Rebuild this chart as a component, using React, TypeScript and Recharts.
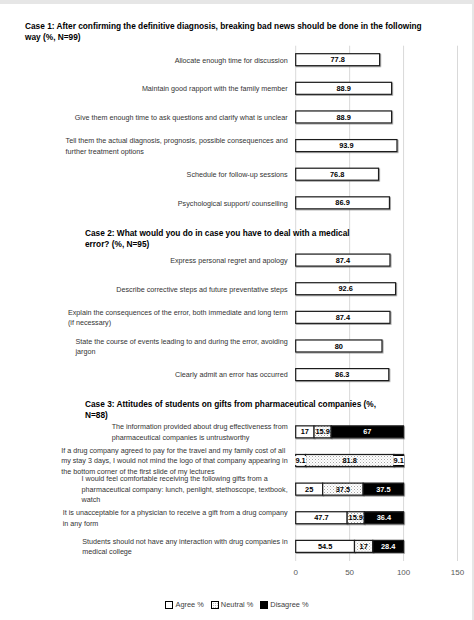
import { BarChart, Bar, XAxis, YAxis, CartesianGrid, LabelList } from 'recharts'

const FONT = "'Liberation Sans', Arial, sans-serif"

const case1Title = [
  'Case 1: After confirming the definitive diagnosis, breaking bad news should be done in the following',
  'way (%, N=99)',
]
const case1Labels = [
  'Allocate enough time for discussion',
  'Maintain good rapport with the family member',
  'Give them enough time to ask questions and clarify what is unclear',
  'Tell them the actual diagnosis, prognosis, possible consequences and\nfurther treatment options',
  'Schedule for follow-up sessions',
  'Psychological support/ counselling',
]
const case1Values = [77.8, 88.9, 88.9, 93.9, 76.8, 86.9]

const case2Title = ['Case 2: What would you do in case you have to deal with a medical', 'error? (%, N=95)']
const case2Labels = [
  'Express personal regret and apology',
  'Describe corrective steps ad future preventative steps',
  'Explain the consequences of the error, both immediate and long term\n(if necessary)',
  'State the course of events leading to and during the error, avoiding\njargon',
  'Clearly admit an error has occurred',
]
const case2Values = [87.4, 92.6, 87.4, 80, 86.3]

const case3Title = ['Case 3: Attitudes of students on gifts from pharmaceutical companies (%,', 'N=88)']
const case3Labels = [
  'The information provided about drug effectiveness from\npharmaceutical companies is untrustworthy',
  'If a drug company agreed to pay for the travel and my family  cost of all\nmy stay 3 days, I would not mind the logo of that company appearing in\nthe bottom corner of the first slide of my lectures',
  'I would feel comfortable receiving the following gifts from a\npharmaceutical company: lunch, penlight, stethoscope, textbook,\nwatch',
  'It is unacceptable for a physician to receive a gift from a drug company\nin any form',
  'Students should not have any interaction with drug companies in\nmedical college',
]
const agree = [17, 9.1, 25, 47.7, 54.5]
const neutral = [15.9, 81.8, 37.5, 15.9, 17]
const disagree = [67, 9.1, 37.5, 36.4, 28.4]

const xTicks = [0, 50, 100, 150]
const legendItems = ['Agree %', 'Neutral %', 'Disagree %']

const rows: any[] = [
  ...case1Labels.map((label, i) => ({ id: `c1-${i}`, label, score: case1Values[i] })),
  { id: 'h2', title: case2Title },
  ...case2Labels.map((label, i) => ({ id: `c2-${i}`, label, score: case2Values[i] })),
  { id: 'h3', title: case3Title },
  ...case3Labels.map((label, i) => ({
    id: `c3-${i}`, label, agree: agree[i], neutral: neutral[i], disagree: disagree[i],
  })),
]

let ctx: CanvasRenderingContext2D | null = null
const textWidth = (s: string, size: number) => {
  if (!ctx) ctx = document.createElement('canvas').getContext('2d')
  if (!ctx) return s.length * size * 0.47
  ctx.font = `${size}px ${FONT}`
  return ctx.measureText(s).width
}

const LABEL_SIZE = 7.2
const TITLE_SIZE = 8.3
const LINE_H = 10.5

const CategoryTick = ({ x, y, payload }: any) => {
  const row = rows.find(r => r.id === payload.value)
  if (!row) return null
  if (row.title) {
    return (
      <text fontFamily={FONT} fontSize={TITLE_SIZE} fontWeight={700} fill="#000">
        {row.title.map((l: string, i: number) => (
          <tspan key={i} x={85} y={y + 1 + i * 11} dy="0.35em">{l}</tspan>
        ))}
      </text>
    )
  }
  const lines: string[] = row.label.split('\n')
  const w = Math.max(...lines.map(l => textWidth(l, LABEL_SIZE)))
  const left = x - w
  const y0 = y - ((lines.length - 1) * LINE_H) / 2
  return (
    <text fontFamily={FONT} fontSize={LABEL_SIZE} fill="#333">
      {lines.map((l, i) => (
        <tspan key={i} x={left} y={y0 + i * LINE_H} dy="0.35em">{l}</tspan>
      ))}
    </text>
  )
}

const barShape = (fill: string) => (props: any) => {
  const { x, y, width, height } = props
  if (!width || width <= 0) return <g />
  return (
    <rect x={x} y={y} width={width} height={height} fill={fill}
      stroke="#1a1a1a" strokeWidth={1.2} filter="url(#barShadow)" />
  )
}

const valueLabel = (dark: boolean) => (props: any) => {
  const vb = props.viewBox || props
  const { x, y, width, height } = vb
  const v = props.value
  if (v == null || !width) return null
  const narrow = width < 16
  const cx = x + width / 2
  const cy = y + height / 2
  return (
    <g>
      {narrow && <rect x={cx - 5.5} y={cy - 4.5} width={11} height={9} fill="#fff" />}
      <text x={cx} y={cy} dy="0.35em" textAnchor="middle" fontFamily={FONT} fontSize={7.4}
        fontWeight={700} fill={dark && !narrow ? '#fff' : '#000'}>{String(v)}</text>
    </g>
  )
}

const LegendSwatch = ({ i }: { i: number }) => (
  <svg width={8} height={8} style={{ marginRight: 2 }}>
    <defs>
      <pattern id="dotsL" width={2} height={2} patternUnits="userSpaceOnUse">
        <rect width={2} height={2} fill="#fff" />
        <rect width={1} height={1} fill="#bbb" />
      </pattern>
    </defs>
    <rect x={0.5} y={0.5} width={7} height={7} fill={i === 2 ? '#000' : i === 1 ? 'url(#dotsL)' : '#fff'}
      stroke="#000" strokeWidth={1} />
  </svg>
)

export default function App() {
  return (
    <div style={{ position: 'absolute', left: 0, top: 0, width: 474, height: 620, background: '#fff' }}>
      <div style={{ position: 'absolute', left: 0, top: 0, width: 474, height: 4, background: '#e6e6e6' }} />
      <div style={{ position: 'absolute', right: 0, top: 0, width: 2, height: 620, background: '#e6e6e6' }} />
      <div style={{
        position: 'absolute', left: 25, top: 21, fontFamily: FONT, fontSize: TITLE_SIZE, fontWeight: 700,
        lineHeight: '11px', whiteSpace: 'nowrap', color: '#000',
      }}>
        {case1Title.map((l, i) => <div key={i}>{l}</div>)}
      </div>
      <BarChart width={474} height={620} data={rows} layout="vertical" barSize={12}
        margin={{ top: 45.7, right: 16.5, bottom: 39, left: 0 }}>
        <defs>
          <pattern id="dots" width={3} height={3} patternUnits="userSpaceOnUse">
            <rect width={3} height={3} fill="#fff" />
            <rect width={1} height={1} fill="#a6a6a6" />
            <rect x={1.5} y={1.5} width={1} height={1} fill="#c8c8c8" />
          </pattern>
          <filter id="barShadow" x="-5%" y="-20%" width="115%" height="160%">
            <feDropShadow dx={0.8} dy={0.8} stdDeviation={0.4} floodColor="#666" floodOpacity={0.7} />
          </filter>
        </defs>
        <CartesianGrid horizontal={false} stroke="#d9d9d9" />
        <XAxis type="number" domain={[0, 150]} ticks={xTicks} height={20} axisLine={false} tickLine={false}
          tick={{ fontSize: 8, fill: '#595959', fontFamily: FONT }} />
        <YAxis type="category" dataKey="id" width={295.7} axisLine={false} tickLine={false}
          interval={0} tick={<CategoryTick />} />
        <Bar dataKey="score" stackId="s" shape={barShape('#fff')} isAnimationActive={false}>
          <LabelList dataKey="score" content={valueLabel(false)} />
        </Bar>
        <Bar dataKey="agree" stackId="s" shape={barShape('#fff')} isAnimationActive={false}>
          <LabelList dataKey="agree" content={valueLabel(false)} />
        </Bar>
        <Bar dataKey="neutral" stackId="s" shape={barShape('url(#dots)')} isAnimationActive={false}>
          <LabelList dataKey="neutral" content={valueLabel(false)} />
        </Bar>
        <Bar dataKey="disagree" stackId="s" shape={barShape('#000')} isAnimationActive={false}>
          <LabelList dataKey="disagree" content={valueLabel(true)} />
        </Bar>
      </BarChart>
      <div style={{
        position: 'absolute', left: 0, top: 600, width: 474, display: 'flex', justifyContent: 'center',
        alignItems: 'center', gap: 7, fontFamily: FONT, fontSize: 7.4, color: '#404040',
      }}>
        {legendItems.map((l, i) => (
          <span key={l} style={{ display: 'inline-flex', alignItems: 'center' }}>
            <LegendSwatch i={i} />{l}
          </span>
        ))}
      </div>
    </div>
  )
}
